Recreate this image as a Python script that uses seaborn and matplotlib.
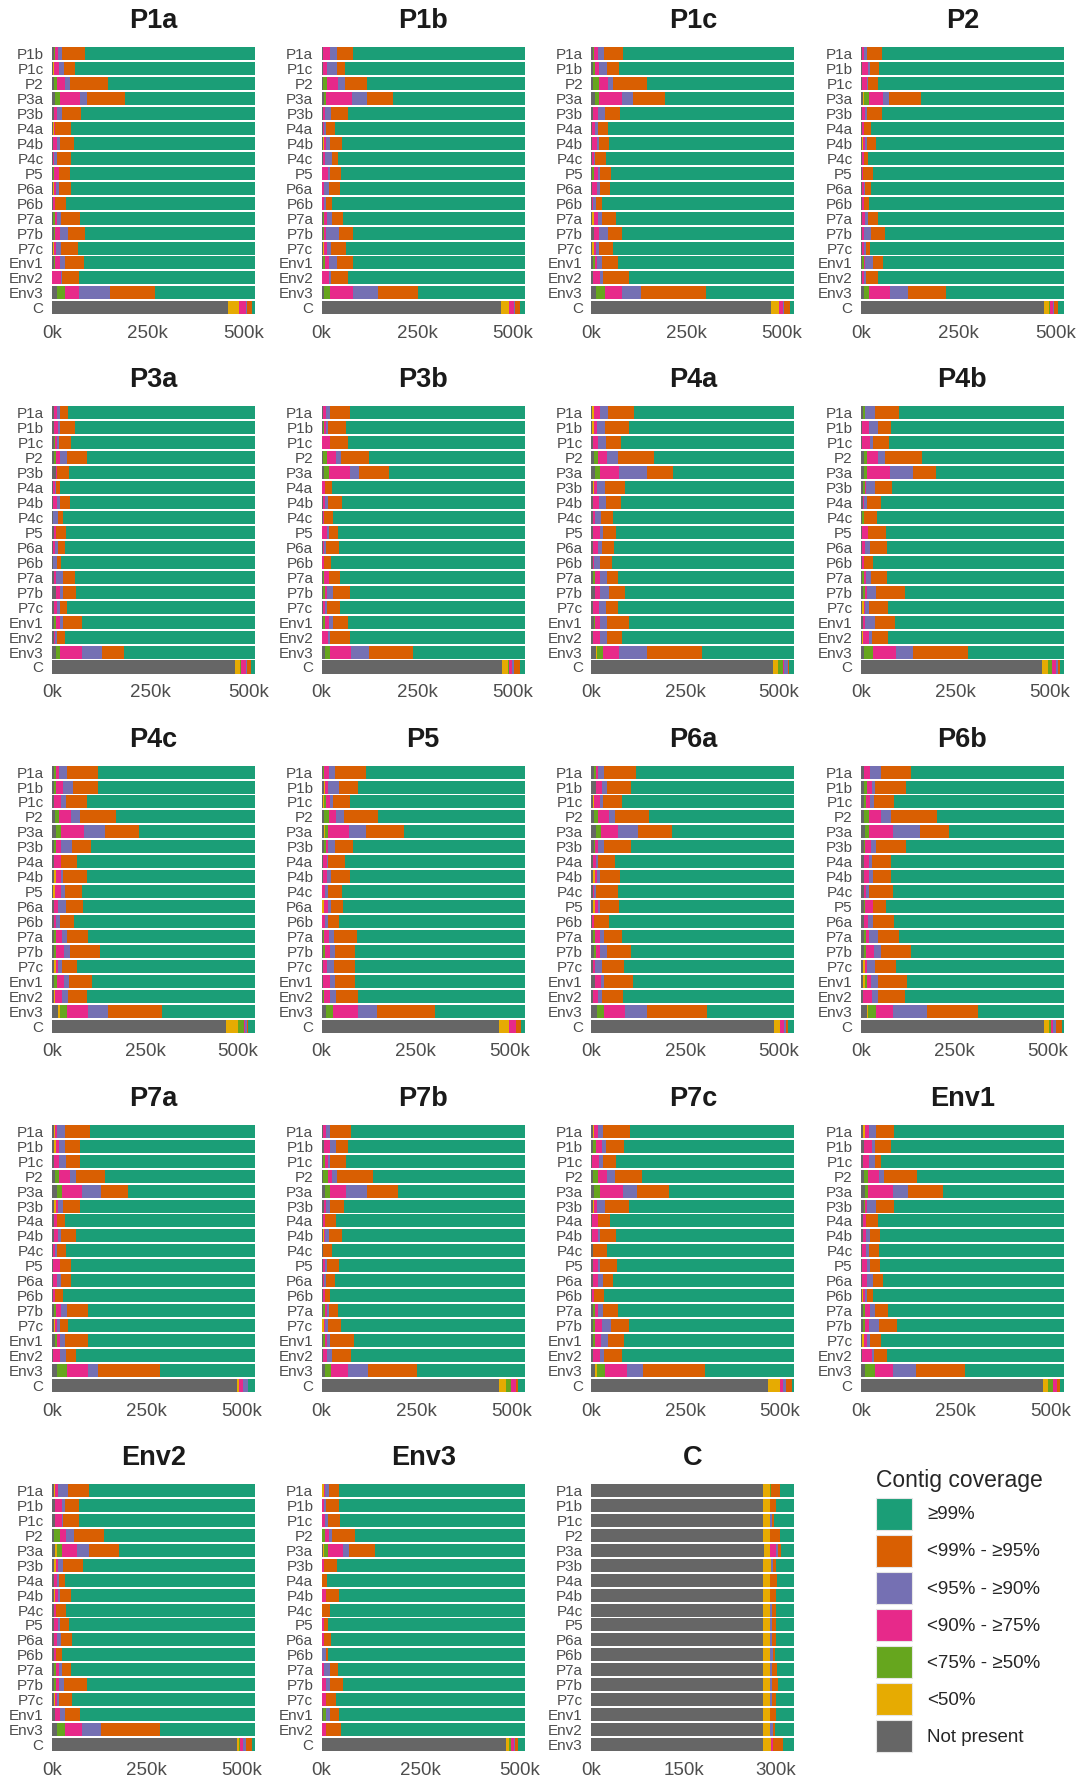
import matplotlib
matplotlib.use("Agg")
import matplotlib.pyplot as plt
from matplotlib.patches import Patch
import seaborn as sns
import pandas as pd

# Genomes compared against each other
samples = ["P1a", "P1b", "P1c", "P2", "P3a", "P3b", "P4a", "P4b", "P4c", "P5",
           "P6a", "P6b", "P7a", "P7b", "P7c", "Env1", "Env2", "Env3", "C"]

# Assembly length of each reference genome (kb)
genome_kb = [531, 532, 532, 522, 516, 532, 541, 538, 546, 541,
             541, 545, 536, 534, 538, 535, 536, 513, 330]

# Coverage classes in stacking order (left to right)
classes = ["Not present", "<50%", "<75% - ≥50%", "<90% - ≥75%",
           "<95% - ≥90%", "<99% - ≥95%", "≥99%"]
class_colors = ["#666666", "#E6AB02", "#66A61E", "#E7298A",
                "#7570B3", "#D95F02", "#1B9E77"]

# Contig length (kb) per coverage class for every query genome,
# columns: Not present, <50%, <75%, <90%, <95%, <99%  (the rest is >=99%)
cov_P1a = [[4, 0, 5, 7, 9, 61], [3, 1, 2, 11, 14, 29], [4, 0, 8, 23, 12, 99],
           [9, 0, 12, 51, 19, 101], [4, 0, 0, 9, 14, 48], [3, 2, 0, 4, 0, 41],
           [3, 0, 0, 11, 6, 37], [3, 0, 0, 3, 7, 37], [3, 0, 3, 12, 0, 30],
           [3, 3, 0, 5, 6, 33], [3, 0, 0, 4, 0, 29], [3, 0, 6, 5, 9, 51],
           [4, 0, 5, 11, 21, 46], [3, 3, 0, 5, 12, 46], [4, 0, 5, 13, 13, 48],
           [1, 0, 0, 23, 2, 44], [12, 0, 22, 36, 82, 116], [459, 31, 0, 17, 2, 13]]
cov_P1b = [[3, 0, 0, 18, 18, 42], [3, 0, 0, 12, 24, 21], [3, 0, 11, 30, 18, 56],
           [5, 0, 6, 68, 41, 67], [3, 0, 0, 5, 16, 46], [3, 0, 0, 4, 5, 22],
           [3, 3, 0, 6, 9, 31], [3, 0, 0, 6, 19, 16], [2, 0, 0, 14, 7, 28],
           [2, 0, 0, 5, 11, 31], [2, 0, 0, 5, 5, 15], [3, 0, 3, 8, 12, 31],
           [3, 0, 4, 5, 33, 36], [3, 4, 0, 6, 12, 39], [4, 0, 4, 11, 22, 40],
           [1, 0, 0, 17, 7, 43], [7, 0, 14, 62, 65, 104], [471, 20, 0, 12, 4, 13]]
cov_P1c = [[4, 0, 2, 11, 16, 49], [4, 0, 5, 10, 21, 33], [5, 0, 14, 26, 13, 87],
           [9, 0, 12, 59, 30, 84], [4, 0, 0, 13, 19, 40], [3, 0, 0, 7, 8, 26],
           [3, 0, 0, 11, 6, 26], [3, 0, 0, 3, 5, 28], [3, 0, 5, 9, 7, 28],
           [3, 0, 0, 12, 7, 26], [3, 0, 0, 2, 7, 16], [3, 3, 0, 11, 12, 37],
           [7, 0, 0, 14, 24, 36], [3, 3, 0, 7, 7, 38], [4, 0, 5, 7, 11, 44],
           [4, 0, 0, 18, 9, 68], [12, 0, 23, 45, 51, 169], [470, 23, 0, 9, 4, 14]]
cov_P2 = [[2, 0, 0, 7, 7, 37], [4, 0, 0, 14, 5, 23], [4, 0, 0, 11, 4, 25],
          [5, 3, 12, 36, 17, 81], [4, 0, 0, 6, 6, 37], [3, 0, 0, 4, 0, 18],
          [3, 3, 0, 4, 5, 23], [3, 0, 0, 4, 0, 12], [3, 0, 0, 2, 0, 26],
          [3, 0, 0, 4, 4, 14], [3, 0, 0, 6, 0, 12], [3, 0, 0, 7, 8, 26],
          [3, 0, 0, 4, 18, 36], [3, 0, 0, 6, 4, 11], [4, 0, 4, 2, 21, 25],
          [3, 0, 0, 4, 7, 30], [9, 0, 12, 54, 46, 99], [471, 13, 3, 6, 4, 10]]
cov_P3a = [[4, 0, 0, 9, 8, 19], [5, 0, 0, 10, 5, 39], [4, 0, 3, 5, 6, 29],
           [6, 0, 5, 10, 17, 50], [9, 0, 0, 4, 0, 31], [3, 0, 0, 4, 4, 10],
           [3, 0, 0, 10, 6, 26], [3, 0, 0, 0, 11, 14], [4, 0, 0, 6, 0, 25],
           [3, 0, 0, 4, 7, 19], [3, 0, 0, 0, 10, 10], [4, 0, 0, 6, 17, 32],
           [9, 0, 0, 10, 10, 31], [4, 0, 0, 8, 7, 19], [4, 0, 7, 10, 8, 47],
           [4, 0, 0, 3, 5, 20], [10, 0, 11, 55, 52, 56], [465, 13, 2, 14, 2, 9]]
cov_P3b = [[4, 0, 0, 8, 11, 50], [4, 0, 3, 4, 6, 46], [2, 0, 0, 20, 0, 47],
           [4, 0, 11, 22, 13, 75], [5, 0, 15, 54, 23, 80], [1, 0, 0, 7, 0, 19],
           [3, 0, 0, 7, 6, 36], [3, 0, 0, 4, 0, 22], [2, 0, 0, 11, 5, 25],
           [3, 0, 0, 4, 5, 34], [2, 0, 0, 5, 0, 17], [4, 0, 3, 11, 0, 30],
           [4, 0, 5, 4, 18, 44], [3, 0, 0, 7, 4, 35], [4, 0, 4, 10, 12, 40],
           [2, 0, 0, 14, 5, 53], [8, 0, 15, 55, 46, 115], [473, 16, 3, 6, 6, 16]]
cov_P4a = [[3, 3, 0, 16, 23, 69], [3, 5, 0, 7, 22, 64], [4, 0, 0, 13, 22, 40],
           [7, 0, 11, 24, 29, 95], [9, 0, 14, 50, 75, 71], [4, 4, 0, 6, 22, 54],
           [4, 0, 0, 17, 18, 39], [4, 0, 0, 6, 15, 34], [4, 0, 0, 19, 7, 35],
           [4, 0, 0, 13, 12, 31], [4, 0, 0, 4, 16, 30], [4, 0, 6, 13, 18, 31],
           [9, 0, 0, 14, 23, 45], [4, 0, 0, 17, 19, 31], [6, 0, 5, 13, 17, 59],
           [5, 0, 0, 17, 19, 41], [12, 3, 17, 42, 74, 148], [483, 15, 13, 3, 9, 5]]
cov_P4b = [[5, 0, 5, 2, 26, 62], [4, 0, 0, 18, 22, 37], [4, 0, 0, 20, 9, 41],
           [7, 0, 9, 29, 18, 99], [7, 0, 9, 62, 59, 62], [5, 0, 5, 4, 23, 45],
           [5, 0, 0, 3, 7, 37], [3, 0, 5, 0, 0, 35], [4, 0, 0, 16, 0, 46],
           [4, 0, 0, 8, 13, 45], [4, 0, 0, 4, 0, 23], [4, 0, 5, 5, 12, 44],
           [5, 0, 5, 7, 23, 78], [2, 5, 0, 3, 11, 50], [5, 0, 0, 7, 26, 52],
           [2, 4, 0, 16, 8, 41], [9, 0, 23, 60, 47, 146], [481, 15, 11, 11, 3, 6]]
cov_P4c = [[5, 0, 5, 9, 21, 84], [6, 0, 6, 18, 27, 66], [6, 0, 0, 17, 15, 55],
           [9, 0, 11, 32, 24, 96], [12, 0, 11, 63, 56, 91], [6, 0, 5, 13, 29, 53],
           [5, 0, 0, 18, 0, 44], [5, 5, 0, 13, 6, 65], [3, 4, 0, 18, 10, 46],
           [5, 0, 0, 11, 21, 45], [5, 0, 0, 5, 12, 37], [5, 0, 5, 17, 13, 56],
           [6, 0, 6, 20, 16, 81], [5, 5, 0, 5, 12, 41], [6, 0, 8, 19, 12, 62],
           [5, 3, 0, 20, 15, 50], [16, 5, 19, 58, 53, 146], [469, 31, 15, 5, 3, 5]]
cov_P5 = [[4, 0, 3, 12, 17, 81], [5, 3, 0, 9, 30, 50], [3, 3, 6, 9, 9, 46],
          [7, 0, 12, 20, 21, 91], [7, 3, 6, 58, 45, 101], [6, 0, 5, 6, 18, 49],
          [3, 0, 0, 10, 4, 44], [3, 0, 0, 11, 12, 49], [2, 0, 0, 6, 8, 37],
          [2, 3, 0, 11, 10, 32], [2, 0, 0, 6, 9, 28], [3, 0, 4, 13, 13, 60],
          [3, 0, 7, 11, 14, 53], [3, 0, 0, 12, 17, 56], [3, 0, 0, 20, 12, 54],
          [3, 0, 3, 16, 15, 59], [12, 0, 18, 67, 50, 155], [472, 28, 0, 18, 0, 14]]
cov_P6a = [[6, 0, 6, 5, 17, 85], [12, 0, 0, 16, 14, 65], [4, 4, 0, 14, 8, 52],
           [7, 0, 11, 29, 17, 91], [12, 0, 14, 46, 52, 90], [6, 0, 5, 6, 18, 72],
           [4, 0, 0, 8, 5, 47], [5, 4, 0, 6, 8, 53], [4, 0, 0, 3, 6, 58],
           [5, 4, 0, 8, 5, 51], [2, 0, 0, 4, 0, 40], [5, 0, 6, 12, 11, 47],
           [7, 0, 5, 12, 17, 65], [4, 0, 0, 7, 17, 60], [10, 0, 0, 17, 7, 77],
           [4, 0, 0, 13, 12, 55], [16, 0, 17, 57, 59, 159], [486, 17, 0, 11, 6, 5]]
cov_P6b = [[9, 0, 0, 15, 30, 80], [9, 0, 6, 16, 7, 83], [7, 0, 7, 11, 9, 56],
           [9, 0, 12, 34, 26, 123], [12, 0, 9, 65, 72, 79], [7, 0, 5, 14, 14, 81],
           [7, 0, 0, 16, 8, 50], [7, 0, 0, 14, 12, 48], [7, 0, 0, 7, 8, 65],
           [7, 0, 3, 23, 0, 35], [7, 0, 0, 12, 14, 55], [7, 0, 6, 9, 25, 54],
           [7, 0, 7, 21, 19, 81], [6, 4, 0, 6, 22, 57], [6, 4, 5, 12, 20, 77],
           [6, 0, 0, 25, 14, 72], [15, 4, 21, 46, 92, 135], [491, 15, 3, 7, 8, 17]]
cov_P7a = [[5, 3, 0, 6, 20, 67], [6, 5, 0, 7, 15, 42], [5, 0, 0, 14, 18, 36],
           [7, 0, 11, 30, 14, 77], [12, 0, 13, 55, 50, 71], [5, 5, 0, 7, 13, 45],
           [5, 0, 0, 9, 0, 19], [5, 0, 0, 12, 7, 39], [3, 0, 0, 5, 4, 24],
           [3, 0, 0, 18, 0, 30], [3, 0, 0, 11, 10, 25], [3, 0, 0, 4, 0, 21],
           [5, 0, 5, 14, 15, 55], [4, 4, 0, 6, 7, 22], [7, 0, 6, 7, 15, 59],
           [2, 0, 0, 19, 15, 27], [14, 0, 25, 55, 28, 164], [489, 5, 0, 11, 12, 0]]
cov_P7b = [[3, 0, 0, 8, 10, 57], [5, 0, 0, 16, 18, 30], [3, 0, 5, 9, 6, 42],
           [3, 0, 14, 9, 15, 93], [9, 0, 12, 43, 55, 83], [5, 0, 0, 7, 9, 38],
           [3, 0, 0, 5, 0, 30], [3, 3, 0, 4, 9, 34], [3, 0, 0, 0, 0, 24],
           [3, 0, 0, 5, 6, 32], [3, 0, 0, 3, 5, 25], [3, 0, 0, 5, 0, 15],
           [3, 0, 5, 6, 5, 24], [2, 3, 0, 5, 6, 36], [4, 0, 4, 6, 9, 63],
           [3, 0, 0, 10, 13, 50], [9, 0, 15, 44, 55, 129], [467, 19, 13, 12, 0, 6]]
cov_P7c = [[4, 3, 0, 10, 15, 70], [5, 0, 7, 16, 12, 46], [3, 0, 0, 18, 10, 34],
           [5, 0, 14, 23, 20, 73], [7, 0, 16, 60, 38, 85], [5, 3, 0, 6, 23, 63],
           [3, 0, 0, 14, 0, 33], [3, 0, 0, 14, 7, 41], [4, 0, 0, 0, 0, 37],
           [4, 0, 0, 15, 4, 46], [4, 0, 0, 13, 14, 26], [3, 0, 0, 5, 0, 26],
           [4, 0, 5, 8, 13, 40], [5, 0, 5, 18, 23, 49], [5, 0, 6, 15, 19, 41],
           [4, 0, 0, 20, 9, 48], [10, 5, 21, 59, 41, 164], [467, 33, 0, 7, 8, 16]]
cov_Env1 = [[5, 5, 0, 12, 18, 48], [7, 0, 0, 23, 7, 43], [5, 0, 0, 16, 16, 17],
            [7, 0, 11, 30, 14, 87], [10, 0, 9, 66, 39, 93], [7, 0, 5, 5, 23, 46],
            [5, 0, 0, 8, 0, 32], [5, 0, 0, 8, 10, 26], [4, 0, 0, 9, 7, 28],
            [4, 0, 0, 13, 7, 27], [4, 0, 0, 13, 16, 26], [3, 3, 0, 6, 5, 14],
            [5, 0, 5, 14, 12, 36], [5, 0, 5, 11, 26, 47], [3, 6, 0, 7, 7, 29],
            [4, 0, 0, 24, 7, 34], [12, 0, 25, 48, 59, 130], [480, 13, 12, 11, 0, 9]]
cov_Env2 = [[5, 3, 0, 9, 26, 55], [9, 0, 0, 18, 6, 39], [7, 0, 0, 18, 5, 41],
            [6, 0, 14, 16, 21, 81], [9, 5, 11, 41, 32, 79], [5, 5, 0, 7, 11, 55],
            [5, 0, 0, 9, 5, 15], [5, 3, 0, 9, 4, 30], [5, 0, 0, 5, 0, 27],
            [5, 0, 0, 11, 5, 24], [5, 0, 0, 9, 9, 29], [5, 0, 0, 5, 0, 15],
            [5, 0, 6, 7, 7, 26], [5, 0, 6, 7, 13, 60], [4, 4, 0, 5, 5, 34],
            [9, 0, 0, 12, 12, 42], [14, 0, 20, 45, 50, 155], [489, 5, 3, 6, 10, 14]]
cov_Env3 = [[2, 3, 0, 3, 10, 25], [2, 0, 0, 5, 5, 32], [2, 0, 0, 7, 7, 30],
            [2, 0, 7, 9, 7, 58], [3, 3, 10, 39, 14, 65], [2, 0, 0, 3, 0, 34],
            [2, 0, 0, 0, 0, 11], [2, 0, 0, 10, 0, 31], [2, 0, 0, 0, 0, 18],
            [2, 0, 0, 3, 2, 10], [2, 0, 0, 3, 2, 17], [2, 0, 0, 0, 10, 4],
            [2, 0, 0, 3, 17, 19], [2, 0, 0, 9, 9, 33], [2, 0, 0, 10, 0, 23],
            [3, 0, 7, 1, 11, 23], [2, 0, 0, 10, 0, 38], [465, 9, 4, 8, 2, 9]]
cov_C = [[279, 11, 2, 0, 0, 14], [279, 12, 0, 0, 0, 9], [279, 12, 0, 0, 3, 3],
         [279, 12, 0, 0, 0, 15], [280, 11, 0, 9, 3, 6], [279, 13, 0, 0, 3, 6],
         [279, 12, 0, 0, 0, 11], [279, 12, 0, 0, 0, 10], [279, 12, 0, 0, 2, 7],
         [279, 12, 0, 0, 3, 7], [279, 12, 0, 0, 3, 6], [279, 12, 0, 0, 4, 3],
         [279, 12, 0, 0, 3, 8], [279, 12, 0, 0, 2, 10], [279, 12, 0, 0, 3, 7],
         [279, 12, 0, 0, 0, 9], [279, 12, 0, 0, 4, 3], [279, 13, 0, 4, 0, 15]]

panel_data = [cov_P1a, cov_P1b, cov_P1c, cov_P2, cov_P3a, cov_P3b, cov_P4a,
              cov_P4b, cov_P4c, cov_P5, cov_P6a, cov_P6b, cov_P7a, cov_P7b,
              cov_P7c, cov_Env1, cov_Env2, cov_Env3, cov_C]

x_ticks_default = [0, 250, 500]
x_ticks_c = [0, 150, 300]

sns.set_theme(style="white")
plt.rcParams["font.family"] = ["Liberation Sans", "DejaVu Sans"]

fig, axes = plt.subplots(5, 4, figsize=(10.84, 17.78), dpi=100)
fig.subplots_adjust(left=0.048, right=0.9815, top=0.974, bottom=0.0146,
                    wspace=0.328, hspace=0.335)

for idx, name in enumerate(samples):
    ax = axes.flat[idx]
    others = [s for s in samples if s != name]
    total = genome_kb[idx]
    frame = pd.DataFrame(panel_data[idx], columns=classes[:-1])
    frame["≥99%"] = total - frame.sum(axis=1)
    cum = frame[classes].cumsum(axis=1)
    cum["sample"] = others
    # Overlay cumulative bars from the full length down to the first class
    for k in range(len(classes) - 1, -1, -1):
        sns.barplot(data=cum, x=classes[k], y="sample", order=others,
                    orient="h", color=class_colors[k], saturation=1,
                    width=0.87, errorbar=None, linewidth=0,
                    edgecolor="none", ax=ax)
    ticks = x_ticks_c if name == "C" else x_ticks_default
    ax.set_xlim(0, total)
    ax.set_xticks(ticks)
    ax.set_xticklabels([f"{t}k" for t in ticks])
    ax.set_xlabel("")
    ax.set_ylabel("")
    for sp in ax.spines.values():
        sp.set_visible(False)
    ax.tick_params(axis="x", length=0, pad=7, labelsize=13.5, colors="#4d4d4d")
    ax.tick_params(axis="y", length=0, pad=6, labelsize=11, colors="#4d4d4d")
    ax.set_title(name, fontsize=19.5, fontweight="bold", pad=13, color="#1a1a1a")

# Legend in the free slot
leg_ax = axes.flat[19]
leg_ax.axis("off")
legend_order = [6, 5, 4, 3, 2, 1, 0]
handles = [Patch(facecolor=class_colors[i], edgecolor="#e6e6e6", linewidth=0.8)
           for i in legend_order]
labels = [classes[i] for i in legend_order]
fig.legend(handles, labels, title="Contig coverage", loc="upper left",
           bbox_to_anchor=(868 / 1084, 1 - 1462 / 1778), frameon=False,
           fontsize=13.5, title_fontsize=16.5, handlelength=1.95,
           handleheight=2.25, labelspacing=0.27, handletextpad=0.8,
           alignment="left", borderaxespad=0)

fig.savefig("out.png", dpi=100, facecolor="white")
